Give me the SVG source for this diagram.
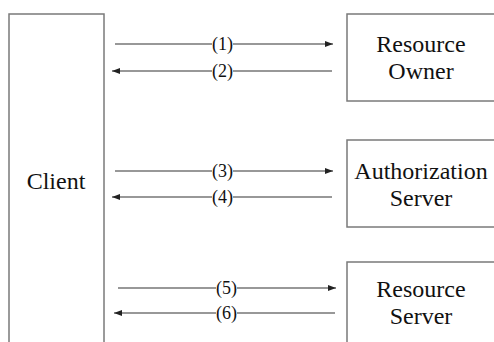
<svg xmlns="http://www.w3.org/2000/svg" width="494" height="342" viewBox="0 0 494 342">
<style>
.box{fill:#fff;stroke:#7a7a7a;stroke-width:1.5}
text{font-family:'Liberation Serif','Times New Roman',serif;fill:#111;text-anchor:middle}
.t{font-size:24px}
.c{stroke:#333;stroke-width:1.2;fill:none;marker-end:url(#ah)}
.lb{fill:#fff}
.l{font-size:18px}
</style>
<defs>
<marker id="ah" markerUnits="userSpaceOnUse" markerWidth="10" markerHeight="8" refX="8" refY="4" orient="auto">
<path d="M0,1 L8,4 L0,7 Z" fill="#222"/>
</marker>
</defs>
<rect width="494" height="342" fill="#fff"/>
<g id="client">
<rect class="box" x="9" y="14" width="95" height="340"/>
<text class="t" x="56" y="189">Client</text>
</g>
<g id="resource-owner">
<rect class="box" x="347" y="14" width="150" height="87"/>
<text class="t" x="421" y="52">Resource</text>
<text class="t" x="421" y="79">Owner</text>
</g>
<g id="authorization-server">
<rect class="box" x="347" y="140" width="150" height="87"/>
<text class="t" x="421" y="179">Authorization</text>
<text class="t" x="421" y="206">Server</text>
</g>
<g id="resource-server">
<rect class="box" x="347" y="262" width="150" height="90"/>
<text class="t" x="421" y="297">Resource</text>
<text class="t" x="421" y="324">Server</text>
</g>
<g id="connectors">
<line class="c" x1="115" y1="44" x2="333" y2="44"/>
<line class="c" x1="332" y1="71" x2="112" y2="71"/>
<line class="c" x1="115" y1="171" x2="333" y2="171"/>
<line class="c" x1="332" y1="197" x2="112" y2="197"/>
<line class="c" x1="118" y1="288" x2="336" y2="288"/>
<line class="c" x1="335" y1="313" x2="114" y2="313"/>
<rect class="lb" x="212" y="37" width="21" height="16"/>
<rect class="lb" x="212" y="64" width="21" height="16"/>
<rect class="lb" x="212" y="164" width="21" height="16"/>
<rect class="lb" x="212" y="190" width="21" height="16"/>
<rect class="lb" x="216" y="281" width="21" height="16"/>
<rect class="lb" x="216" y="306" width="21" height="16"/>
<text class="l" x="222.5" y="50">(1)</text>
<text class="l" x="222.5" y="77">(2)</text>
<text class="l" x="222.5" y="177">(3)</text>
<text class="l" x="222.5" y="203">(4)</text>
<text class="l" x="226.5" y="294">(5)</text>
<text class="l" x="226.5" y="319">(6)</text>
</g>
</svg>
